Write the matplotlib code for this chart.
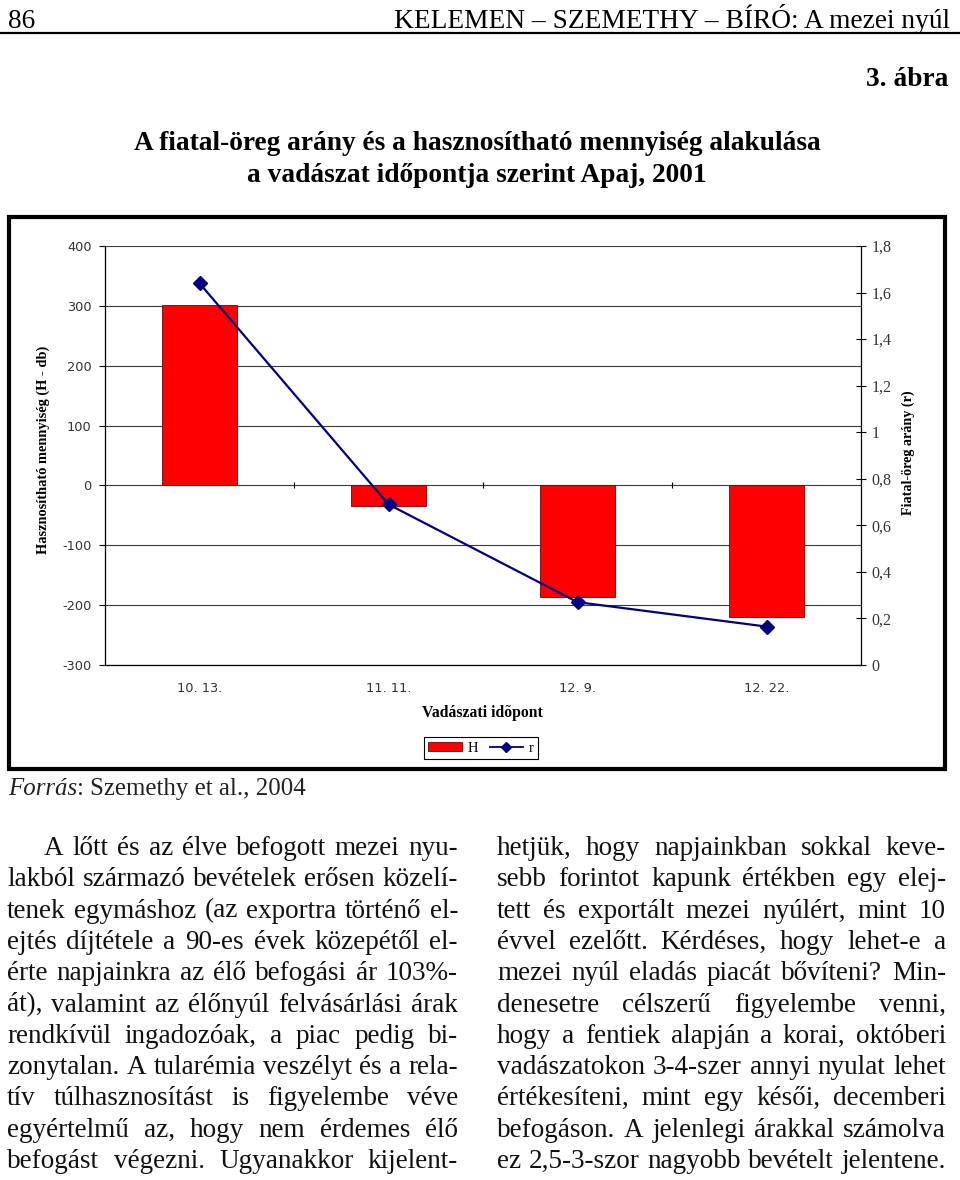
import matplotlib
matplotlib.use('Agg')
import matplotlib.pyplot as plt
import numpy as np
from matplotlib.patches import Rectangle, Patch
from matplotlib.lines import Line2D

W, H = 960, 1180

# adatok a 3. ábráról
dates = ['10. 13.', '11. 11.', '12. 9.', '12. 22.']
h_values = [301, -35, -186, -220]
r_values = [1.64, 0.69, 0.27, 0.165]
left_ticks = [-300, -200, -100, 0, 100, 200, 300, 400]
right_ticks = [0, 0.2, 0.4, 0.6, 0.8, 1.0, 1.2, 1.4, 1.6, 1.8]
right_tick_labels = ['0', '0,2', '0,4', '0,6', '0,8', '1', '1,2', '1,4', '1,6', '1,8']

left_lines = [
    "A lőtt és az élve befogott mezei nyu-",
    "lakból származó bevételek erősen közelí-",
    "tenek egymáshoz (az exportra történő el-",
    "ejtés díjtétele a 90-es évek közepétől el-",
    "érte napjainkra az élő befogási ár 103%-",
    "át), valamint az élőnyúl felvásárlási árak",
    "rendkívül ingadozóak, a piac pedig bi-",
    "zonytalan. A tularémia veszélyt és a rela-",
    "tív túlhasznosítást is figyelembe véve",
    "egyértelmű az, hogy nem érdemes élő",
    "befogást végezni. Ugyanakkor kijelent-",
]
right_lines = [
    "hetjük, hogy napjainkban sokkal keve-",
    "sebb forintot kapunk értékben egy elej-",
    "tett és exportált mezei nyúlért, mint 10",
    "évvel ezelőtt. Kérdéses, hogy lehet-e a",
    "mezei nyúl eladás piacát bővíteni? Min-",
    "denesetre célszerű figyelembe venni,",
    "hogy a fentiek alapján a korai, októberi",
    "vadászatokon 3-4-szer annyi nyulat lehet",
    "értékesíteni, mint egy késői, decemberi",
    "befogáson. A jelenlegi árakkal számolva",
    "ez 2,5-3-szor nagyobb bevételt jelentene.",
]

SERIF = 'Liberation Serif'
navy = '#000080'


def P(x, y):
    return (x / W, 1 - y / H)


fig = plt.figure(figsize=(W / 100, H / 100), dpi=100)
renderer = fig.canvas.get_renderer()


def wpx(t):
    return t.get_window_extent(renderer).width


def fit(t, target):
    t.set_fontsize(t.get_fontsize() * target / wpx(t))
    return t.get_fontsize()


# fejléc
hdr = fig.text(*P(950, 28), "KELEMEN – SZEMETHY – BÍRÓ: A mezei nyúl", family=SERIF,
               fontsize=20, ha='right', va='baseline')
hs = fit(hdr, 555)
fig.text(*P(8, 28), "86", family=SERIF, fontsize=hs, ha='left', va='baseline')
fig.add_artist(Line2D([0, 1], [1 - 33 / H] * 2, color='black', lw=1.6, transform=fig.transFigure))

t1 = fig.text(*P(477, 150), "A fiatal-öreg arány és a hasznosítható mennyiség alakulása",
              family=SERIF, weight='bold', fontsize=20, ha='center', va='baseline')
ts = fit(t1, 685)
fig.text(*P(477, 182), "a vadászat időpontja szerint Apaj, 2001", family=SERIF, weight='bold',
         fontsize=ts, ha='center', va='baseline')
fig.text(*P(948, 86), "3. ábra", family=SERIF, weight='bold', fontsize=ts, ha='right', va='baseline')

# keret
fig.add_artist(Rectangle(P(9, 769), 936 / W, 552 / H, transform=fig.transFigure,
                         fill=False, edgecolor='black', lw=3))

# diagram
ax = fig.add_axes([105 / W, 1 - 665 / H, 756 / W, 419 / H])
x = np.arange(len(dates))
ax.bar(x, h_values, width=0.4, color='#ff0000', edgecolor='#7a0000', lw=0.6, zorder=2)
ax.set_xlim(-0.5, len(dates) - 0.5)
ax.set_ylim(-300, 400)
ax.set_yticks(left_ticks)
ax.set_yticklabels([str(v) for v in left_ticks])
ax.set_xticks(x)
ax.set_xticklabels(dates)
ax.grid(axis='y', color='#3a3a3a', lw=0.8)
ax.set_axisbelow(True)
ax.plot(x[:-1] + 0.5, np.zeros(len(dates) - 1), ls='none', marker='|', ms=5, mew=0.8, color='black', zorder=3)
ax.tick_params(axis='y', direction='out', length=4.5, width=0.8, labelsize=9.3, labelcolor='#333333', pad=5)
ax.tick_params(axis='x', length=0, pad=12, labelsize=9.3, labelcolor='#333333')
for s in ['top', 'right']:
    ax.spines[s].set_visible(False)
for s in ['left', 'bottom']:
    ax.spines[s].set_linewidth(0.9)

ax2 = ax.twinx()
ax2.set_ylim(0, 1.8)
ax2.set_yticks(right_ticks)
ax2.set_yticklabels(right_tick_labels, family=SERIF, fontsize=11.5, color='#333333')
ax2.tick_params(axis='y', direction='inout', length=7, width=0.8, pad=4)
for s in ['top', 'left', 'bottom']:
    ax2.spines[s].set_visible(False)
ax2.spines['right'].set_linewidth(0.9)

ax2.plot(x, r_values, color=navy, lw=1.6, marker='D', ms=7.5, zorder=4)

fig.text(*P(43, 450), "Hasznosítható mennyiség (H - db)", family=SERIF, weight='bold',
         fontsize=10.4, rotation=90, ha='center', va='center')
fig.text(*P(908, 453), "Fiatal-öreg arány (r)", family=SERIF, weight='bold',
         fontsize=10.2, rotation=90, ha='center', va='center')
fig.text(*P(482, 713), "Vadászati idõpont", family=SERIF, weight='bold',
         fontsize=11.3, ha='center', va='center')

leg = fig.legend(handles=[Patch(facecolor='#ff0000', edgecolor='#7a0000', lw=0.6),
                          Line2D([], [], color=navy, marker='D', ms=5, lw=1.3)],
                 labels=['H', 'r'], loc='center', bbox_to_anchor=P(481, 748), ncol=2,
                 frameon=True, fancybox=False, edgecolor='black', framealpha=1,
                 prop={'family': SERIF, 'size': 10.5}, handlelength=2.3, handleheight=0.6,
                 handletextpad=0.4, columnspacing=0.8, borderpad=0.3, borderaxespad=0)
leg.get_frame().set_linewidth(0.8)

# szöveg
probe = fig.text(0, 0, right_lines[-1], family=SERIF, fontsize=17)
bs = fit(probe, 446)
probe.remove()

src1 = fig.text(*P(8, 795), "Forrás", family=SERIF, style='italic', fontsize=bs,
                color='#222222', va='baseline')
src2 = fig.text(0, 0, ": Szemethy et al., 2004", family=SERIF, fontsize=bs,
                color='#222222', va='baseline')
k = 297 / (wpx(src1) + wpx(src2))
src1.set_fontsize(bs * k)
src2.set_fontsize(bs * k)
src2.set_position(P(8 + wpx(src1), 795))


def put_line(line, x0, x1, y):
    words = line.split(' ')
    texts = [fig.text(0, 0, w, family=SERIF, fontsize=bs, color='#111111', va='baseline')
             for w in words]
    widths = [wpx(t) for t in texts]
    gap = (x1 - x0 - sum(widths)) / max(len(words) - 1, 1)
    xx = x0
    for t, w in zip(texts, widths):
        t.set_position(P(xx, y))
        xx += w + gap


for i, line in enumerate(left_lines):
    y = 855 + 31.3 * i
    put_line(line, 44 if i == 0 else 7, 458, y)
for i, line in enumerate(right_lines):
    y = 855 + 31.3 * i
    put_line(line, 497, 946, y)

fig.savefig('out.png', dpi=100)
